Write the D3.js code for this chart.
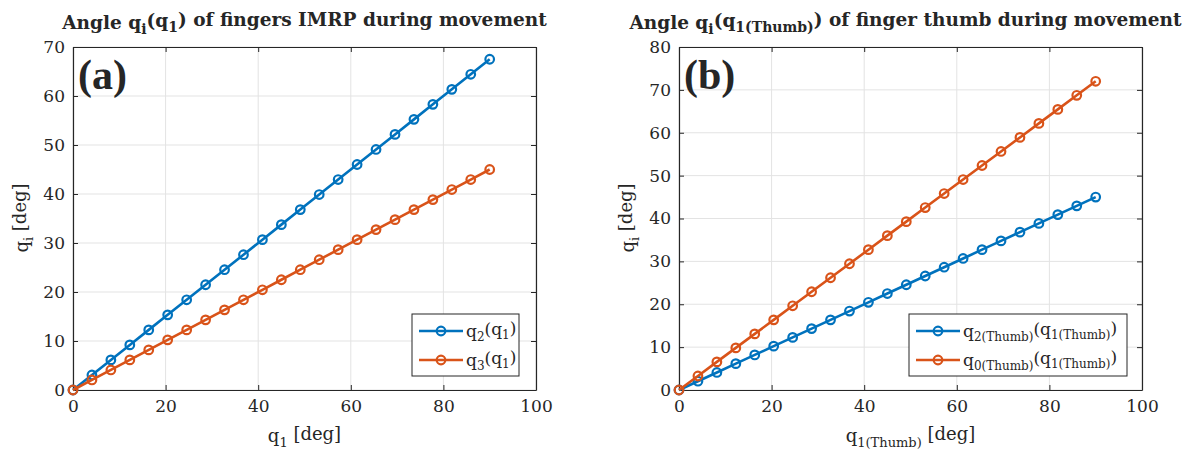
<!DOCTYPE html>
<html>
<head>
<meta charset="utf-8">
<script src="https://cdn.jsdelivr.net/npm/d3@7"></script>
<style>
  body { margin: 0; background: #fff; }
  svg text { font-family: "DejaVu Serif", serif; fill: #262626; }
</style>
</head>
<body>
<div id="chart"></div>
<script>
// sample points along the driving angle q1 (deg)
var q1 = [0, 4.09, 8.18, 12.27, 16.36, 20.45, 24.55, 28.64, 32.73, 36.82, 40.91, 45,
          49.09, 53.18, 57.27, 61.36, 65.45, 69.55, 73.64, 77.73, 81.82, 85.91, 90];

// panel (a) fingers IMRP
var q2 = [0, 3.07, 6.14, 9.2, 12.27, 15.34, 18.41, 21.48, 24.55, 27.61, 30.68, 33.75,
          36.82, 39.89, 42.95, 46.02, 49.09, 52.16, 55.23, 58.3, 61.36, 64.43, 67.5];
var q3 = [0, 2.05, 4.09, 6.14, 8.18, 10.23, 12.27, 14.32, 16.36, 18.41, 20.45, 22.5,
          24.55, 26.59, 28.64, 30.68, 32.73, 34.77, 36.82, 38.86, 40.91, 42.95, 45];

// panel (b) thumb
var q2Thumb = [0, 2.05, 4.09, 6.14, 8.18, 10.23, 12.27, 14.32, 16.36, 18.41, 20.45, 22.5,
               24.55, 26.59, 28.64, 30.68, 32.73, 34.77, 36.82, 38.86, 40.91, 42.95, 45];
var q0Thumb = [0, 3.27, 6.55, 9.82, 13.09, 16.36, 19.64, 22.91, 26.18, 29.45, 32.73, 36,
               39.27, 42.55, 45.82, 49.09, 52.36, 55.64, 58.91, 62.18, 65.45, 68.73, 72];

var xTicks = [0, 20, 40, 60, 80, 100];
var yTicksA = [0, 10, 20, 30, 40, 50, 60, 70];
var yTicksB = [0, 10, 20, 30, 40, 50, 60, 70, 80];

var blue = "#0072BD", orange = "#D95319";

var svg = d3.select("#chart").append("svg")
  .attr("width", 1202)
  .attr("height", 452);

// writes [text, isSub] pieces into a text element
function richText(sel, parts, subSize) {
  parts.forEach(function(p, i) {
    var prev = i > 0 ? parts[i - 1][1] : false;
    var t = sel.append("tspan").text(p[0]);
    if (p[1] && !prev) t.attr("dy", "0.35em").style("font-size", subSize);
    else if (p[1]) t.style("font-size", subSize);
    else if (!p[1] && prev) t.attr("dy", "-0.35em");
  });
  return sel;
}

function drawPanel(o) {
  var x = d3.scaleLinear().domain([0, 100]).range([o.left, o.right]);
  var y = d3.scaleLinear().domain([0, o.ymax]).range([390, 47]);
  var g = svg.append("g");

  // grid
  g.selectAll(".gx").data(xTicks).enter().append("line")
    .attr("x1", function(d) { return x(d); }).attr("x2", function(d) { return x(d); })
    .attr("y1", y(0)).attr("y2", y(o.ymax))
    .attr("stroke", "#e3e3e3").attr("stroke-width", 1);
  g.selectAll(".gy").data(o.yTicks).enter().append("line")
    .attr("y1", function(d) { return y(d); }).attr("y2", function(d) { return y(d); })
    .attr("x1", x(0)).attr("x2", x(100))
    .attr("stroke", "#e3e3e3").attr("stroke-width", 1);

  // axes, ticks pointing inward
  var bottom = d3.axisBottom(x).tickValues(xTicks).tickSizeInner(-5).tickSizeOuter(0).tickPadding(10);
  var top = d3.axisTop(x).tickValues(xTicks).tickSizeInner(-5).tickSizeOuter(0).tickFormat("");
  var left = d3.axisLeft(y).tickValues(o.yTicks).tickSizeInner(-5).tickSizeOuter(0).tickPadding(8);
  var right = d3.axisRight(y).tickValues(o.yTicks).tickSizeInner(-5).tickSizeOuter(0).tickFormat("");

  [[bottom, "translate(0,390)"], [top, "translate(0,47)"],
   [left, "translate(" + o.left + ",0)"], [right, "translate(" + o.right + ",0)"]].forEach(function(a) {
    var ax = g.append("g").attr("transform", a[1]).call(a[0]);
    ax.select(".domain").attr("stroke", "#262626").attr("stroke-width", 1.2);
    ax.selectAll(".tick line").attr("stroke", "#262626");
    ax.selectAll(".tick text").style("font-size", "17px").style("font-family", "DejaVu Serif").attr("fill", "#262626");
  });

  // series
  var line = d3.line().x(function(d) { return x(d[0]); }).y(function(d) { return y(d[1]); });
  o.series.forEach(function(s) {
    var pts = q1.map(function(v, i) { return [v, s.values[i]]; });
    g.append("path").datum(pts).attr("d", line)
      .attr("fill", "none").attr("stroke", s.color).attr("stroke-width", 2.6);
    g.selectAll(null).data(pts).enter().append("circle")
      .attr("cx", function(d) { return x(d[0]); })
      .attr("cy", function(d) { return y(d[1]); })
      .attr("r", 4.3).attr("fill", "none").attr("stroke", s.color).attr("stroke-width", 2.2);
  });

  // title
  richText(g.append("text").attr("x", (o.left + o.right) / 2 + o.titleShift).attr("y", 29)
    .attr("text-anchor", "middle").style("font-weight", "bold").style("font-size", "18.5px")
    .attr("fill", "#000"), o.title, "14px");

  // panel letter
  g.append("text").attr("x", o.left + 5).attr("y", 89)
    .style("font-family", "Liberation Serif").style("font-weight", "bold").style("font-size", "42px")
    .attr("fill", "#000").text(o.letter);

  // axis labels
  richText(g.append("text").attr("x", (o.left + o.right) / 2).attr("y", 442)
    .attr("text-anchor", "middle").style("font-size", "18px"), o.xlabel, "13px");
  richText(g.append("text").attr("transform", "translate(" + (o.left - 45) + ",218) rotate(-90)")
    .attr("text-anchor", "middle").style("font-size", "18px"), [["q", false], ["i", true], [" [deg]", false]], "13px");

  // legend
  var lg = g.append("g");
  lg.append("rect").attr("x", o.legend[0]).attr("y", 314).attr("width", o.legend[1]).attr("height", 62)
    .attr("fill", "#fff").attr("stroke", "#262626").attr("stroke-width", 1);
  o.series.forEach(function(s, i) {
    var cy = 331 + i * 29;
    var lx = o.legend[0] + 7;
    lg.append("line").attr("x1", lx).attr("x2", lx + 44).attr("y1", cy).attr("y2", cy)
      .attr("stroke", s.color).attr("stroke-width", 2.6);
    lg.append("circle").attr("cx", lx + 22).attr("cy", cy).attr("r", 4.3)
      .attr("fill", "none").attr("stroke", s.color).attr("stroke-width", 2.2);
    richText(lg.append("text").attr("x", lx + 47).attr("y", cy + 6).style("font-size", "17px"),
      s.label, "12px");
  });
}

drawPanel({
  left: 73, right: 536, ymax: 70, yTicks: yTicksA, letter: "(a)", titleShift: 0,
  title: [["Angle q", false], ["i", true], ["(q", false], ["1", true], [") of fingers IMRP during movement", false]],
  xlabel: [["q", false], ["1", true], [" [deg]", false]],
  legend: [412, 107],
  series: [
    { values: q2, color: blue, label: [["q", false], ["2", true], ["(q", false], ["1", true], [")", false]] },
    { values: q3, color: orange, label: [["q", false], ["3", true], ["(q", false], ["1", true], [")", false]] }
  ]
});

drawPanel({
  left: 679, right: 1142, ymax: 80, yTicks: yTicksB, letter: "(b)", titleShift: -5,
  title: [["Angle q", false], ["i", true], ["(q", false], ["1(Thumb)", true], [") of finger thumb during movement", false]],
  xlabel: [["q", false], ["1(Thumb)", true], [" [deg]", false]],
  legend: [909, 218],
  series: [
    { values: q2Thumb, color: blue, label: [["q", false], ["2(Thumb)", true], ["(q", false], ["1(Thumb)", true], [")", false]] },
    { values: q0Thumb, color: orange, label: [["q", false], ["0(Thumb)", true], ["(q", false], ["1(Thumb)", true], [")", false]] }
  ]
});
</script>
</body>
</html>
